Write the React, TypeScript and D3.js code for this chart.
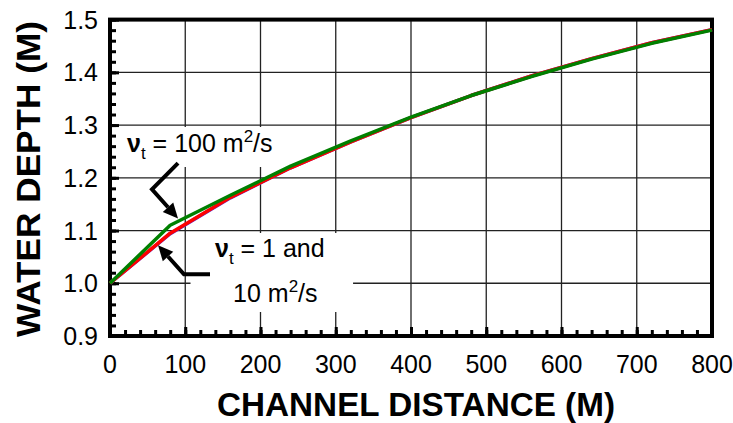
import React, { useEffect, useRef } from "react";
import * as d3 from "d3";

// channel distance (m) where the model output was sampled
const distance = [0, 80, 160, 240, 320, 400, 480, 560, 640, 720, 800];
// water depth (m) for each eddy viscosity run
const depthNu1 = [1.0, 1.095, 1.163, 1.219, 1.268, 1.314, 1.356, 1.393, 1.426, 1.456, 1.481];
const depthNu10 = [1.0, 1.094, 1.162, 1.219, 1.268, 1.314, 1.356, 1.393, 1.426, 1.456, 1.481];
const depthNu100 = [1.0, 1.11, 1.167, 1.222, 1.27, 1.315, 1.356, 1.392, 1.425, 1.455, 1.48];

const xTicks = [0, 100, 200, 300, 400, 500, 600, 700, 800];
const yTicks = [0.9, 1.0, 1.1, 1.2, 1.3, 1.4, 1.5];

const FONT = "'Liberation Sans', Arial, Helvetica, sans-serif";

export default function App() {
  const svgRef = useRef<SVGSVGElement | null>(null);

  useEffect(() => {
    const width = 733;
    const height = 423;
    const left = 110;
    const right = 712;
    const top = 19.6;
    const bottom = 336;

    const svg = d3.select(svgRef.current).attr("width", width).attr("height", height);
    svg.selectAll("*").remove();

    const x = d3.scaleLinear().domain([0, 800]).range([left, right]);
    const y = d3.scaleLinear().domain([0.9, 1.5]).range([bottom, top]);

    // grid
    const grid = svg.append("g").attr("stroke", "#222").attr("stroke-width", 1.3);
    grid
      .selectAll("line.gx")
      .data(xTicks.slice(1, -1))
      .enter()
      .append("line")
      .attr("x1", (d) => x(d))
      .attr("x2", (d) => x(d))
      .attr("y1", top)
      .attr("y2", bottom);
    grid
      .selectAll("line.gy")
      .data(yTicks.slice(1, -1))
      .enter()
      .append("line")
      .attr("x1", left)
      .attr("x2", right)
      .attr("y1", (d) => y(d))
      .attr("y2", (d) => y(d));

    // white boxes behind the annotations
    svg.append("rect").attr("x", x(16)).attr("y", 127).attr("width", x(222) - x(16)).attr("height", 40).attr("fill", "#fff");
    svg.append("rect").attr("x", x(107)).attr("y", 233).attr("width", x(323) - x(107)).attr("height", 79).attr("fill", "#fff");

    // ticks (inward)
    const xAxis = d3.axisTop(x).tickValues(d3.range(0, 801, 20)).tickSize(6).tickFormat(() => "");
    const xAxisMajor = d3.axisTop(x).tickValues(xTicks).tickSize(9).tickFormat(() => "");
    const yAxis = d3.axisRight(y).tickValues(d3.range(0.9, 1.501, 0.02)).tickSize(6).tickFormat(() => "");
    const yAxisMajor = d3.axisRight(y).tickValues(yTicks).tickSize(9).tickFormat(() => "");
    [xAxis, xAxisMajor].forEach((ax) => {
      const g = svg.append("g").attr("transform", `translate(0,${bottom})`).call(ax);
      g.select(".domain").remove();
      g.selectAll("line").attr("stroke", "#000").attr("stroke-width", 3);
    });
    [yAxis, yAxisMajor].forEach((ax) => {
      const g = svg.append("g").attr("transform", `translate(${left},0)`).call(ax);
      g.select(".domain").remove();
      g.selectAll("line").attr("stroke", "#000").attr("stroke-width", 3);
    });

    // frame
    svg
      .append("rect")
      .attr("x", left)
      .attr("y", top)
      .attr("width", right - left)
      .attr("height", bottom - top)
      .attr("fill", "none")
      .attr("stroke", "#000")
      .attr("stroke-width", 4);

    // curves
    const line = d3
      .line<number>()
      .x((_, i) => x(distance[i]))
      .y((d) => y(d));
    const series = [
      { values: depthNu10, color: "#5a2dd0" },
      { values: depthNu1, color: "#ff0000" },
      { values: depthNu100, color: "#008000" },
    ];
    series.forEach((s) => {
      svg
        .append("path")
        .datum(s.values)
        .attr("d", line)
        .attr("fill", "none")
        .attr("stroke", s.color)
        .attr("stroke-width", 3.5)
        .attr("stroke-linejoin", "round");
    });

    // tick labels
    svg
      .selectAll("text.xl")
      .data(xTicks)
      .enter()
      .append("text")
      .attr("x", (d) => x(d))
      .attr("y", 373)
      .attr("text-anchor", "middle")
      .attr("font-family", FONT)
      .attr("font-size", 25)
      .text((d) => d);
    svg
      .selectAll("text.yl")
      .data(yTicks)
      .enter()
      .append("text")
      .attr("x", 98)
      .attr("y", (d) => y(d) + 9)
      .attr("text-anchor", "end")
      .attr("font-family", FONT)
      .attr("font-size", 25)
      .text((d) => d.toFixed(1));

    // axis titles
    svg
      .append("text")
      .attr("x", 217)
      .attr("y", 415.5)
      .attr("font-family", FONT)
      .attr("font-weight", "bold")
      .attr("font-size", 33)
      .attr("textLength", 398)
      .attr("lengthAdjust", "spacingAndGlyphs")
      .text("CHANNEL DISTANCE (M)");
    svg
      .append("text")
      .attr("transform", `translate(40,337) rotate(-90)`)
      .attr("font-family", FONT)
      .attr("font-weight", "bold")
      .attr("font-size", 33)
      .attr("textLength", 316)
      .attr("lengthAdjust", "spacingAndGlyphs")
      .text("WATER DEPTH (M)");

    // annotations
    const label = (xv: number, yv: number, parts: [string, string][]) => {
      const t = svg
        .append("text")
        .attr("x", x(xv))
        .attr("y", y(yv))
        .attr("font-family", FONT)
        .attr("font-size", 25);
      parts.forEach(([txt, kind]) => {
        const ts = t.append("tspan").text(txt);
        if (kind === "nu") ts.attr("font-weight", "bold");
        if (kind === "sub") ts.attr("font-size", 17).attr("dy", 7);
        if (kind === "sup") ts.attr("font-size", 17).attr("dy", -10);
        if (kind === "back-sub") ts.attr("dy", -7);
        if (kind === "back-sup") ts.attr("dy", 10);
      });
    };
    label(22.6, 1.249, [["ν", "nu"], ["t", "sub"], [" = 100 m", "back-sub"], ["2", "sup"], ["/s", "back-sup"]]);
    label(139.5, 1.049, [["ν", "nu"], ["t", "sub"], [" = 1 and", "back-sub"]]);
    label(163.5, 0.964, [["10 m", ""], ["2", "sup"], ["/s", "back-sup"]]);

    const arrow = (pts: [number, number][]) => {
      const p = pts.map(([a, b]) => [x(a), y(b)] as [number, number]);
      const [tx, ty] = p[p.length - 1];
      const [px, py] = p[p.length - 2];
      const ang = Math.atan2(ty - py, tx - px);
      const len = 15;
      const back: [number, number] = [tx - len * Math.cos(ang), ty - len * Math.sin(ang)];
      svg
        .append("path")
        .attr("d", d3.line()([...p.slice(0, -1), back]))
        .attr("fill", "none")
        .attr("stroke", "#000")
        .attr("stroke-width", 4)
        .attr("stroke-linejoin", "miter");
      const w = 7;
      const head = [
        [tx, ty],
        [back[0] + w * Math.sin(ang), back[1] - w * Math.cos(ang)],
        [back[0] - w * Math.sin(ang), back[1] + w * Math.cos(ang)],
      ] as [number, number][];
      svg.append("path").attr("d", d3.line()(head) + "Z").attr("fill", "#000");
    };
    arrow([
      [90.4, 1.228],
      [55.8, 1.178],
      [90.4, 1.123],
    ]);
    arrow([
      [132.9, 1.017],
      [98.3, 1.017],
      [63.8, 1.072],
    ]);
  }, []);

  return (
    <div>
      <svg ref={svgRef} style={{ position: "absolute", left: 0, top: 0, background: "#fff" }}></svg>
    </div>
  );
}
